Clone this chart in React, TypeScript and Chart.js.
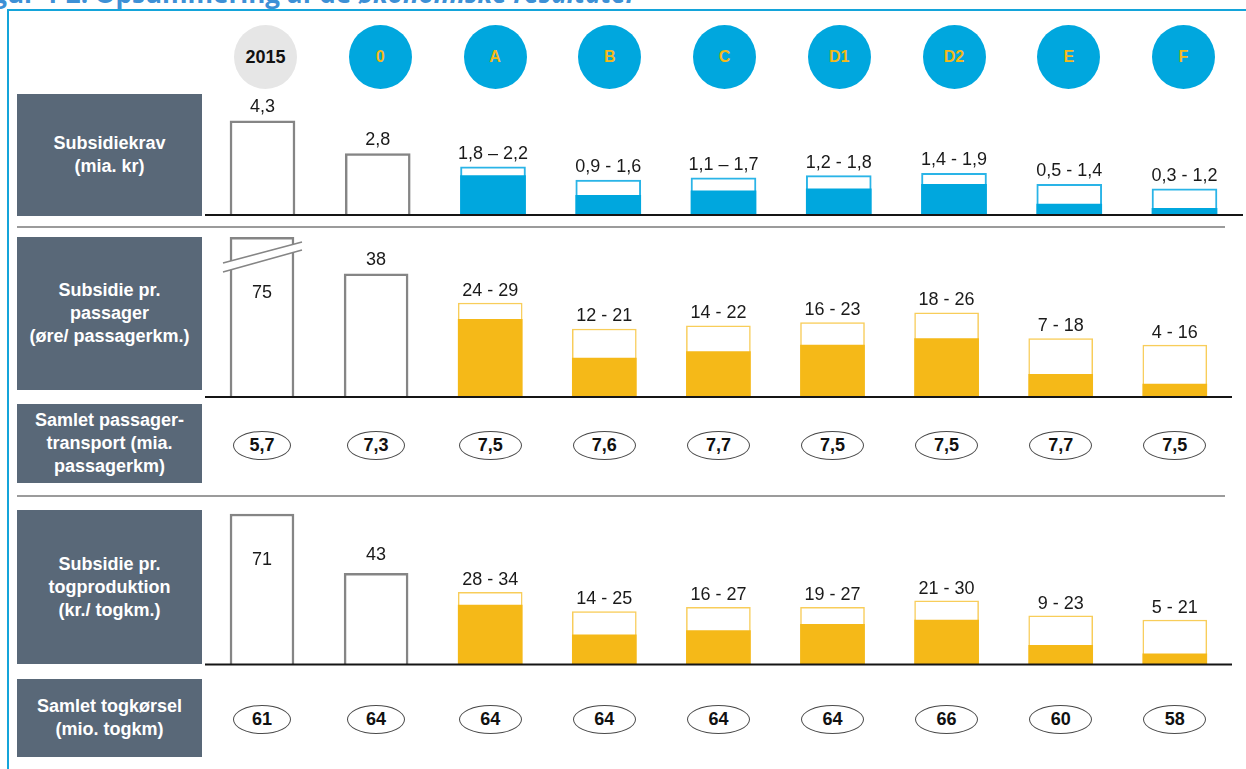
import React, { useEffect, useRef } from 'react';
import { Chart, registerables } from 'chart.js';

Chart.register(...registerables);

// ---------- data ----------
const categories = ['2015', '0', 'A', 'B', 'C', 'D1', 'D2', 'E', 'F'];

// Subsidiekrav (mia. kr)
const subsidyLow = [null, null, 1.8, 0.9, 1.1, 1.2, 1.4, 0.5, 0.3];
const subsidyHigh = [4.3, 2.8, 2.2, 1.6, 1.7, 1.8, 1.9, 1.4, 1.2];
const subsidyLabels = ['4,3', '2,8', '1,8 – 2,2', '0,9 - 1,6', '1,1 – 1,7', '1,2 - 1,8', '1,4 - 1,9', '0,5 - 1,4', '0,3 - 1,2'];

// Subsidie pr. passager (øre/ passagerkm.)
const passengerLow = [null, null, 24, 12, 14, 16, 18, 7, 4];
const passengerHigh = [75, 38, 29, 21, 22, 23, 26, 18, 16];
const passengerLabels = ['75', '38', '24 - 29', '12 - 21', '14 - 22', '16 - 23', '18 - 26', '7 - 18', '4 - 16'];

// Samlet passagertransport (mia. passagerkm)
const passengerTransport = [5.7, 7.3, 7.5, 7.6, 7.7, 7.5, 7.5, 7.7, 7.5];

// Subsidie pr. togproduktion (kr./ togkm.)
const trainLow = [null, null, 28, 14, 16, 19, 21, 9, 5];
const trainHigh = [71, 43, 34, 25, 27, 27, 30, 23, 21];
const trainLabels = ['71', '43', '28 - 34', '14 - 25', '16 - 27', '19 - 27', '21 - 30', '9 - 23', '5 - 21'];

// Samlet togkørsel (mio. togkm)
const trainKm = [61, 64, 64, 64, 64, 64, 66, 60, 58];

const rowTitles = [
  'Subsidiekrav\n(mia. kr)',
  'Subsidie pr.\npassager\n(øre/ passagerkm.)',
  'Samlet passager-\ntransport (mia.\npassagerkm)',
  'Subsidie pr.\ntogproduktion\n(kr./ togkm.)',
  'Samlet togkørsel\n(mio. togkm)',
];

// ---------- styles ----------
const FONT = '"Liberation Sans", Arial, Helvetica, sans-serif';
const SLATE = '#596878';
const GRAY = '#858585';
const BLUE = '#00a7de';
const BLUE_LINE = '#2ab4e7';
const YELLOW = '#f5b918';
const YELLOW_LINE = '#f8cd5a';
const FRAME = '#14a4da';
const CANVAS_LEFT = 200;
const CANVAS_WIDTH = 1046;

const fmt = (v: number) => String(v).replace('.', ',');

type PanelProps = {
  low: (number | null)[];
  high: number[];
  labels: string[];
  accent: string;
  accentLine: string;
  accentLineWidth: number;
  top: number;
  height: number;
  baseline: number;
  pxPerUnit: number;
  padTop: number;
  firstCenter: number;
  spacing: number;
  barWidth: number;
  lineStart: number;
  lineEnd: number;
  labelGap: number;
  grayGap: number;
  inside?: { index: number; offset: number };
  broken?: number;
};

function BarPanel(p: PanelProps) {
  const ref = useRef<HTMLCanvasElement>(null);
  useEffect(() => {
    const canvas = ref.current!;
    const n = categories.length;
    const padLeft = p.firstCenter - p.spacing / 2 - CANVAS_LEFT;
    const padRight = CANVAS_WIDTH - padLeft - p.spacing * n;
    const padBottom = p.top + p.height - p.baseline;
    const yMax = (p.baseline - p.top - p.padTop) / p.pxPerUnit;

    const overlay = {
      id: 'overlay',
      afterDatasetsDraw(chart: any) {
        const ctx = chart.ctx as CanvasRenderingContext2D;
        const area = chart.chartArea;
        const base = chart.scales.y.getPixelForValue(0);
        const meta = chart.getDatasetMeta(1);
        ctx.save();
        // broken (cut) bar
        if (p.broken !== undefined) {
          const el = meta.data[p.broken];
          const half = el.width / 2;
          const t = area.top;
          ctx.strokeStyle = GRAY;
          ctx.lineWidth = 2.5;
          ctx.beginPath();
          ctx.moveTo(el.x - half, t + 1.25);
          ctx.lineTo(el.x + half, t + 1.25);
          ctx.stroke();
          const x0 = el.x - half - 7;
          const x1 = el.x + half + 8;
          ctx.fillStyle = '#ffffff';
          ctx.beginPath();
          ctx.moveTo(x0, t + 26);
          ctx.lineTo(x1, t + 5);
          ctx.lineTo(x1, t + 13);
          ctx.lineTo(x0, t + 35);
          ctx.closePath();
          ctx.fill();
          ctx.lineWidth = 1.5;
          ctx.beginPath();
          ctx.moveTo(x0, t + 26);
          ctx.lineTo(x1, t + 5);
          ctx.moveTo(x0, t + 35);
          ctx.lineTo(x1, t + 13);
          ctx.stroke();
        }
        // baseline
        ctx.strokeStyle = '#151515';
        ctx.lineWidth = 2;
        ctx.beginPath();
        ctx.moveTo(p.lineStart - CANVAS_LEFT, base);
        ctx.lineTo(p.lineEnd - CANVAS_LEFT, base);
        ctx.stroke();
        // value labels
        ctx.font = `18px ${FONT}`;
        ctx.fillStyle = '#1a1a1a';
        ctx.textAlign = 'center';
        ctx.textBaseline = 'middle';
        meta.data.forEach((el: any, i: number) => {
          const top = Math.max(el.y, area.top);
          const gap = i < 2 ? p.grayGap : p.labelGap;
          const y = p.inside && p.inside.index === i ? top + p.inside.offset : top - gap;
          ctx.fillText(p.labels[i], el.x, y);
        });
        ctx.restore();
      },
    };

    const chart = new Chart(canvas, {
      type: 'bar',
      data: {
        labels: categories,
        datasets: [
          {
            label: 'Lav',
            data: p.low,
            backgroundColor: p.accent,
            borderWidth: 0,
            grouped: false,
            order: 0,
            barThickness: p.barWidth,
          } as any,
          {
            label: 'Høj',
            data: p.high,
            backgroundColor: '#ffffff',
            borderColor: p.high.map((_, i) => (i < 2 ? GRAY : p.accentLine)),
            borderWidth: p.high.map((_, i) => (i < 2 ? 2.5 : p.accentLineWidth)),
            grouped: false,
            order: 1,
            barThickness: p.barWidth,
            clip: 0,
          } as any,
        ],
      },
      options: {
        animation: false,
        responsive: false,
        devicePixelRatio: 1,
        layout: { padding: { left: padLeft, right: padRight, top: p.padTop, bottom: padBottom } },
        plugins: { legend: { display: false }, tooltip: { enabled: false } },
        scales: {
          x: { display: false, offset: true },
          y: { display: false, min: 0, max: yMax },
        },
      },
      plugins: [overlay],
    });
    return () => chart.destroy();
  }, []);
  return (
    <canvas
      ref={ref}
      width={CANVAS_WIDTH}
      height={p.height}
      style={{ position: 'absolute', left: CANVAS_LEFT, top: p.top, width: CANVAS_WIDTH, height: p.height, display: 'block' }}
    />
  );
}

function RowBox({ top, height, text }: { top: number; height: number; text: string }) {
  return (
    <div
      style={{
        position: 'absolute',
        left: 17,
        top,
        width: 185,
        height,
        background: SLATE,
        color: '#ffffff',
        fontFamily: FONT,
        fontWeight: 700,
        fontSize: 18,
        lineHeight: '23px',
        display: 'flex',
        alignItems: 'center',
        justifyContent: 'center',
        textAlign: 'center',
        whiteSpace: 'pre-line',
      }}
    >
      {text}
    </div>
  );
}

function Ellipses({ values, cy }: { values: string[]; cy: number }) {
  return (
    <>
      {values.map((v, i) => {
        const w = i < 2 ? 58 : 63;
        const h = 29;
        const cx = 262 + i * 114.1;
        return (
          <div
            key={i}
            style={{
              position: 'absolute',
              left: cx - w / 2,
              top: cy - h / 2,
              width: w,
              height: h,
              boxSizing: 'border-box',
              border: '1px solid #4a4a4a',
              borderRadius: '50%',
              display: 'flex',
              alignItems: 'center',
              justifyContent: 'center',
              fontFamily: FONT,
              fontWeight: 700,
              fontSize: 18,
              color: '#111',
            }}
          >
            {v}
          </div>
        );
      })}
    </>
  );
}

export default function App() {
  return (
    <div
      style={{
        position: 'absolute',
        left: 0,
        top: 0,
        width: 1246,
        height: 769,
        overflow: 'hidden',
        background: '#ffffff',
      }}
    >
      <div
        style={{
          position: 'absolute',
          left: -30,
          top: -21,
          whiteSpace: 'nowrap',
          fontFamily: '"Open Sans", sans-serif',
          fontWeight: 700,
          fontSize: 26,
          lineHeight: '28px',
          color: '#3d90d6',
        }}
      >
        Figur 4-2: Opsummering af de <i>økonomiske resultater</i>
      </div>
      <div
        style={{
          position: 'absolute',
          left: 7,
          top: 9,
          width: 1400,
          height: 900,
          borderTop: `2.5px solid ${FRAME}`,
          borderLeft: `2.5px solid ${FRAME}`,
        }}
      />

      {categories.map((c, i) => {
        const cx = 265.5 + i * 114.75;
        const first = i === 0;
        return (
          <div
            key={c}
            style={{
              position: 'absolute',
              left: cx - 31.5,
              top: 25,
              width: 63,
              height: 64,
              borderRadius: '50%',
              background: first ? '#e6e6e6' : BLUE,
              color: first ? '#111' : YELLOW,
              fontFamily: FONT,
              fontWeight: 700,
              fontSize: first ? 18 : 16,
              display: 'flex',
              alignItems: 'center',
              justifyContent: 'center',
            }}
          >
            {c}
          </div>
        );
      })}

      <RowBox top={94} height={122} text={rowTitles[0]} />
      <RowBox top={237} height={153} text={rowTitles[1]} />
      <RowBox top={404} height={79} text={rowTitles[2]} />
      <RowBox top={510} height={154} text={rowTitles[3]} />
      <RowBox top={679} height={78} text={rowTitles[4]} />

      <div style={{ position: 'absolute', left: 17, top: 225.5, width: 1208, height: 2.5, background: '#9b9b9b' }} />
      <div style={{ position: 'absolute', left: 17, top: 494.5, width: 1208, height: 2.5, background: '#9b9b9b' }} />

      <BarPanel
        low={subsidyLow}
        high={subsidyHigh}
        labels={subsidyLabels}
        accent={BLUE}
        accentLine={BLUE_LINE}
        accentLineWidth={2}
        top={92}
        height={125}
        baseline={215}
        pxPerUnit={21.9}
        padTop={13}
        firstCenter={262.5}
        spacing={115.25}
        barWidth={65}
        lineStart={205}
        lineEnd={1243}
        labelGap={13}
        grayGap={14}
      />
      <BarPanel
        low={passengerLow}
        high={passengerHigh}
        labels={passengerLabels}
        accent={YELLOW}
        accentLine={YELLOW_LINE}
        accentLineWidth={1.5}
        top={232}
        height={167}
        baseline={397}
        pxPerUnit={3.24}
        padTop={5}
        firstCenter={262}
        spacing={114.1}
        barWidth={64}
        lineStart={205}
        lineEnd={1232}
        labelGap={12.5}
        grayGap={14}
        inside={{ index: 0, offset: 56 }}
        broken={0}
      />
      <BarPanel
        low={trainLow}
        high={trainHigh}
        labels={trainLabels}
        accent={YELLOW}
        accentLine={YELLOW_LINE}
        accentLineWidth={1.5}
        top={505}
        height={162}
        baseline={664.5}
        pxPerUnit={2.12}
        padTop={4}
        firstCenter={262}
        spacing={114.1}
        barWidth={64}
        lineStart={205}
        lineEnd={1232}
        labelGap={12}
        grayGap={18}
        inside={{ index: 0, offset: 46 }}
      />

      <Ellipses values={passengerTransport.map(fmt)} cy={445} />
      <Ellipses values={trainKm.map(fmt)} cy={719.5} />
    </div>
  );
}
